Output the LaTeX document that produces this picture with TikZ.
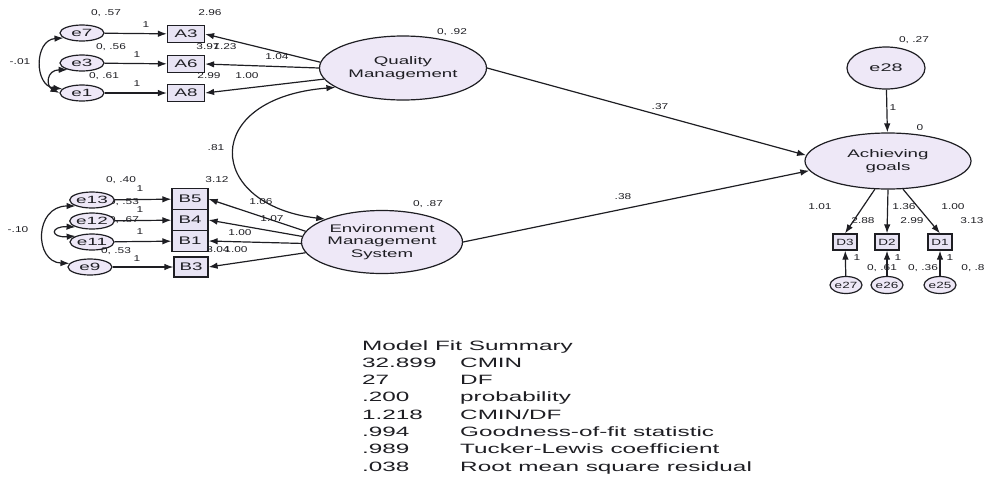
\documentclass[tikz,border=0pt]{standalone}
\usepackage{fontspec}
\setmainfont{Liberation Sans}
% widened faces of the same family for the diagram text
\newfontfamily\fnum[FakeStretch=1.4]{Liberation Sans}
\newfontfamily\fsml[FakeStretch=1.5]{Liberation Sans}
\newfontfamily\fmid[FakeStretch=1.7]{Liberation Sans}
\newfontfamily\fwide[FakeStretch=1.8]{Liberation Sans}
\usetikzlibrary{arrows.meta,shapes.geometric}
\definecolor{lav}{RGB}{238,232,247}
\definecolor{boxlav}{RGB}{232,228,244}
\definecolor{ink}{RGB}{30,30,35}
\begin{document}
\begin{tikzpicture}[x=1pt,y=-1pt,
  every node/.style={text=ink},
  err/.style={ellipse,draw=ink,line width=1.2pt,fill=lav,inner sep=0pt,
    minimum width=44pt,minimum height=16pt,font=\fwide\fontsize{10.5}{11}\selectfont},
  serr/.style={err,minimum width=32pt,minimum height=17pt,font=\fsml\fontsize{9}{10}\selectfont},
  obs/.style={rectangle,draw=ink,line width=1.2pt,fill=boxlav,inner sep=0pt,
    minimum width=37pt,minimum height=17pt,font=\fmid\fontsize{11}{12}\selectfont},
  sobs/.style={obs,minimum width=24pt,minimum height=16pt,font=\fsml\fontsize{9}{10}\selectfont},
  lat/.style={ellipse,draw=ink,line width=1.2pt,fill=lav,inner sep=0pt,align=center,
    font=\fmid\fontsize{11}{12.7}\selectfont},
  lbl/.style={inner sep=0pt,font=\fnum\fontsize{8.5}{9}\selectfont},
  fit/.style={inner sep=0pt,anchor=base west,font=\fwide\fontsize{13.5}{14}\selectfont},
  arr/.style={draw=ink,line width=1.2pt,-{Latex[length=9pt,width=6.5pt]}},
  cov/.style={draw=ink,line width=1.2pt,{Latex[length=9pt,width=6.5pt]}-{Latex[length=9pt,width=6.5pt]}}
]
\useasboundingbox (0,0) rectangle (985,480);

% ---- labels that sit partly under the error terms
\node[lbl] (l13b) at (124,202) {0, .53};
\node[lbl] (l12b) at (124,220) {0, .67};

% ---- Quality Management block
\node[err] (e7) at (82,33) {e7};
\node[err] (e3) at (82,63) {e3};
\node[err] (e1) at (82,93) {e1};
\node[obs] (A3) at (186,34) {A3};
\node[obs] (A6) at (186,64) {A6};
\node[obs] (A8) at (186,93) {A8};
\node[lat,minimum width=167pt,minimum height=64pt] (QM) at (403,68) {Quality\\Management};

% ---- Environment Management System block
\node[err] (e13) at (92,200) {e13};
\node[err] (e12) at (92,221) {e12};
\node[err] (e11) at (92,242) {e11};
\node[err] (e9) at (90,267) {e9};
\node[obs,minimum width=36pt,minimum height=21pt] (B5) at (190,199) {B5};
\node[obs,minimum width=36pt,minimum height=21pt] (B4) at (190,220) {B4};
\node[obs,minimum width=36pt,minimum height=21pt] (B1) at (190,241) {B1};
\node[obs,minimum width=34pt,minimum height=20pt] (B3) at (191,267) {B3};
\node[lat,minimum width=161pt,minimum height=63pt] (EMS) at (382,242) {Environment\\Management\\System};

% ---- Achieving goals block
\node[lat,minimum width=78pt,minimum height=42pt,font=\fwide\fontsize{11}{12}\selectfont] (e28) at (886,68) {e28};
\node[lat,minimum width=166pt,minimum height=56pt] (AG) at (888,161) {Achieving\\goals};
\node[sobs] (D3) at (845,242) {D3};
\node[sobs] (D2) at (887,242) {D2};
\node[sobs] (D1) at (940,242) {D1};
\node[serr] (e27) at (846,285) {e27};
\node[serr] (e26) at (887,285) {e26};
\node[serr] (e25) at (940,285) {e25};

% ---- error terms to indicators
\draw[arr] (e7) -- (A3);
\draw[arr] (e3) -- (A6);
\draw[arr] (e1) -- (A8);
\draw[arr] (e13) -- (B5);
\draw[arr] (e12) -- (B4);
\draw[arr] (e11) -- (B1);
\draw[arr] (e9) -- (B3);
\draw[arr] (e27) -- (D3);
\draw[arr] (e26) -- (D2);
\draw[arr] (e25) -- (D1);
\draw[arr] (e28) -- (AG);

% ---- loadings
\draw[arr] (QM.176) -- (A3.east);
\draw[arr] (QM.180) -- (A6.east);
\draw[arr] (QM.188) -- (A8.east);
\draw[arr] (EMS.172) -- (B5.east);
\draw[arr] (EMS.176) -- (B4.east);
\draw[arr] (EMS.181) -- (B1.east);
\draw[arr] (EMS.188) -- (B3.east);
\draw[arr] (AG.245) -- (D3.north);
\draw[arr] (AG.270) -- (D2.north);
\draw[arr] (AG.298) -- (D1.north);

% ---- structural paths
\draw[arr] (QM.east) -- (AG.176);
\draw[arr] (EMS.east) -- (AG.187);

% ---- covariances
\draw[cov] (e7.195) .. controls (34,40) and (34,86) .. (e1.168);
\draw[cov] (e3.205) .. controls (46,70) and (46,86) .. (e1.180);
\draw[cov] (e13.200) .. controls (34,206) and (34,262) .. (e9.170);
\draw[cov] (e12.200) .. controls (50,226) and (50,238) .. (e11.160);
\draw[cov] (QM.196) .. controls (200,98) and (205,205) .. (EMS.158);

% ---- estimates
\node[lbl] (t1) at (106,13) {0, .57};
\node[lbl] (t2) at (146,25) {1};
\node[lbl] (t3) at (210,13) {2.96};
\node[lbl] (t4) at (111,47) {0, .56};
\node[lbl] (t5) at (137,55) {1};
\node[lbl] (t6) at (208,47) {3.97};
\node[lbl] (t7) at (225,47) {1.23};
\node[lbl] (t8) at (277,57) {1.04};
\node[lbl] (t9) at (104,76) {0, .61};
\node[lbl] (t10) at (137,84) {1};
\node[lbl] (t11) at (209,76) {2.99};
\node[lbl] (t12) at (247,76) {1.00};
\node[lbl] (t13) at (20,62) {-.01};
\node[lbl] (t14) at (452,32) {0, .92};

\node[lbl] (u1) at (121,180) {0, .40};
\node[lbl] (u2) at (217,180) {3.12};
\node[lbl] (u3) at (140,189) {1};
\node[lbl] (u4) at (140,210) {1};
\node[lbl] (u5) at (140,232) {1};
\node[lbl] (u6) at (116,251) {0, .53};
\node[lbl] (u7) at (137,259) {1};
\node[lbl] (u8) at (18,230) {-.10};
\node[lbl] (u9) at (261,202) {1.06};
\node[lbl] (u10) at (272,219) {1.07};
\node[lbl] (u11) at (240,233) {1.00};
\node[lbl] (u12) at (218,250) {3.04};
\node[lbl] (u13) at (236,250) {1.00};
\node[lbl] (u14) at (216,148) {.81};
\node[lbl] (u15) at (428,204) {0, .87};

\node[lbl] (p1) at (660,107) {.37};
\node[lbl] (p2) at (623,197) {.38};

\node[lbl] (g1) at (914,40) {0, .27};
\node[lbl] (g2) at (893,108) {1};
\node[lbl] (g3) at (920,128) {0};
\node[lbl] (g4) at (820,207) {1.01};
\node[lbl] (g5) at (904,207) {1.36};
\node[lbl] (g6) at (953,207) {1.00};
\node[lbl] (g7) at (863,221) {2.88};
\node[lbl] (g8) at (912,221) {2.99};
\node[lbl] (g9) at (972,221) {3.13};
\node[lbl] (g10) at (857,258) {1};
\node[lbl] (g11) at (882,268) {0, .61};
\node[lbl] (g12) at (898,258) {1};
\node[lbl] (g13) at (923,268) {0, .36};
\node[lbl] (g14) at (950,258) {1};
\node[lbl] (g15) at (973,268) {0, .8};

% ---- fit summary
\node[fit] (m0) at (362,350) {Model Fit Summary};
\node[fit] (m1) at (362,367.3) {32.899};
\node[fit] (m2) at (362,384.6) {27};
\node[fit] (m3) at (362,401.9) {.200};
\node[fit] (m4) at (362,419.2) {1.218};
\node[fit] (m5) at (362,436.5) {.994};
\node[fit] (m6) at (362,453.8) {.989};
\node[fit] (m7) at (362,471.1) {.038};
\node[fit] (n1) at (460,367.3) {CMIN};
\node[fit] (n2) at (460,384.6) {DF};
\node[fit] (n3) at (460,401.9) {probability};
\node[fit] (n4) at (460,419.2) {CMIN/DF};
\node[fit] (n5) at (460,436.5) {Goodness-of-fit statistic};
\node[fit] (n6) at (460,453.8) {Tucker-Lewis coefficient};
\node[fit] (n7) at (460,471.1) {Root mean square residual};
\end{tikzpicture}
\end{document}
